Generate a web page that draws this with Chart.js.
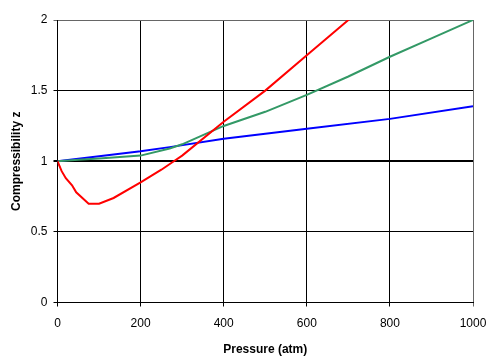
<!DOCTYPE html>
<html>
<head>
<meta charset="utf-8">
<script src="https://cdn.jsdelivr.net/npm/chart.js@4/dist/chart.umd.min.js"></script>
<style>
    html, body { margin: 0; padding: 0; background: #fff; }
    #wrap { width: 501px; height: 361px; }
</style>
</head>
<body>
<div id="wrap"><canvas id="zChart" width="501" height="361"></canvas></div>
<script>
// Compressibility factor vs pressure
const redPressure = [0, 10, 20, 35, 45, 75, 100, 135, 200, 250, 280, 300, 400, 500, 600, 700, 800, 900, 1000];
const redZ = [1.0, 0.93, 0.88, 0.83, 0.78, 0.70, 0.70, 0.74, 0.85, 0.94, 1.0, 1.04, 1.28, 1.50, 1.75, 2.0, 2.26, 2.52, 2.78];

const greenPressure = [0, 50, 100, 150, 200, 270, 300, 400, 500, 600, 700, 800, 900, 1000];
const greenZ = [1.0, 1.01, 1.02, 1.03, 1.04, 1.09, 1.12, 1.25, 1.35, 1.47, 1.60, 1.74, 1.87, 2.0];

const bluePressure = [0, 200, 270, 400, 600, 800, 1000];
const blueZ = [1.0, 1.07, 1.10, 1.16, 1.23, 1.30, 1.39];

const xTicks = [0, 200, 400, 600, 800, 1000];
const yTicks = [0, 0.5, 1, 1.5, 2];

function toPoints(xs, ys) {
    return xs.map((x, i) => ({ x: x, y: ys[i] }));
}

const ctx = document.getElementById('zChart').getContext('2d');

const tickFont = { family: 'Liberation Sans', size: 12 };
const titleFont = { family: 'Liberation Sans', size: 12, weight: 'bold' };

new Chart(ctx, {
    type: 'line',
    data: {
        datasets: [
            { data: toPoints(redPressure, redZ), borderColor: '#ff0000' },
            { data: toPoints(greenPressure, greenZ), borderColor: '#339966' },
            { data: toPoints(bluePressure, blueZ), borderColor: '#0000ff' }
        ]
    },
    options: {
        responsive: false,
        animation: false,
        layout: { padding: { top: 20, right: 28, left: 5, bottom: 0 } },
        elements: {
            line: { borderWidth: 2, tension: 0, fill: false },
            point: { radius: 0 }
        },
        scales: {
            x: {
                type: 'linear',
                min: 0,
                max: 1000,
                afterBuildTicks: function(axis) {
                    axis.ticks = xTicks.map(v => ({ value: v }));
                },
                afterFit: function(axis) { axis.height = 58.5; },
                grid: {
                    color: ctx => ctx.tick && ctx.tick.value === 1000 ? '#666' : '#000',
                    tickLength: 4
                },
                border: { color: '#000' },
                ticks: {
                    color: '#000', font: tickFont, padding: 10, maxRotation: 0,
                    callback: value => String(value)
                },
                title: { display: true, text: 'Pressure (atm)', color: '#000', font: titleFont, padding: { top: 2 } }
            },
            y: {
                min: 0,
                max: 2,
                afterBuildTicks: function(axis) {
                    axis.ticks = yTicks.map(v => ({ value: v }));
                },
                afterFit: function(axis) { axis.width = 52.5; },
                grid: {
                    color: ctx => ctx.tick && ctx.tick.value === 2 ? '#666' : '#000',
                    lineWidth: ctx => ctx.tick && ctx.tick.value === 1 ? 2 : 1,
                    tickLength: 4
                },
                border: { color: '#000' },
                ticks: {
                    color: '#000', font: tickFont, padding: 6,
                    callback: value => String(value)
                },
                title: { display: true, text: 'Compressibility z', color: '#000', font: titleFont, padding: { bottom: 6 } }
            }
        },
        plugins: {
            legend: { display: false },
            tooltip: { enabled: false }
        }
    }
});
</script>
</body>
</html>
